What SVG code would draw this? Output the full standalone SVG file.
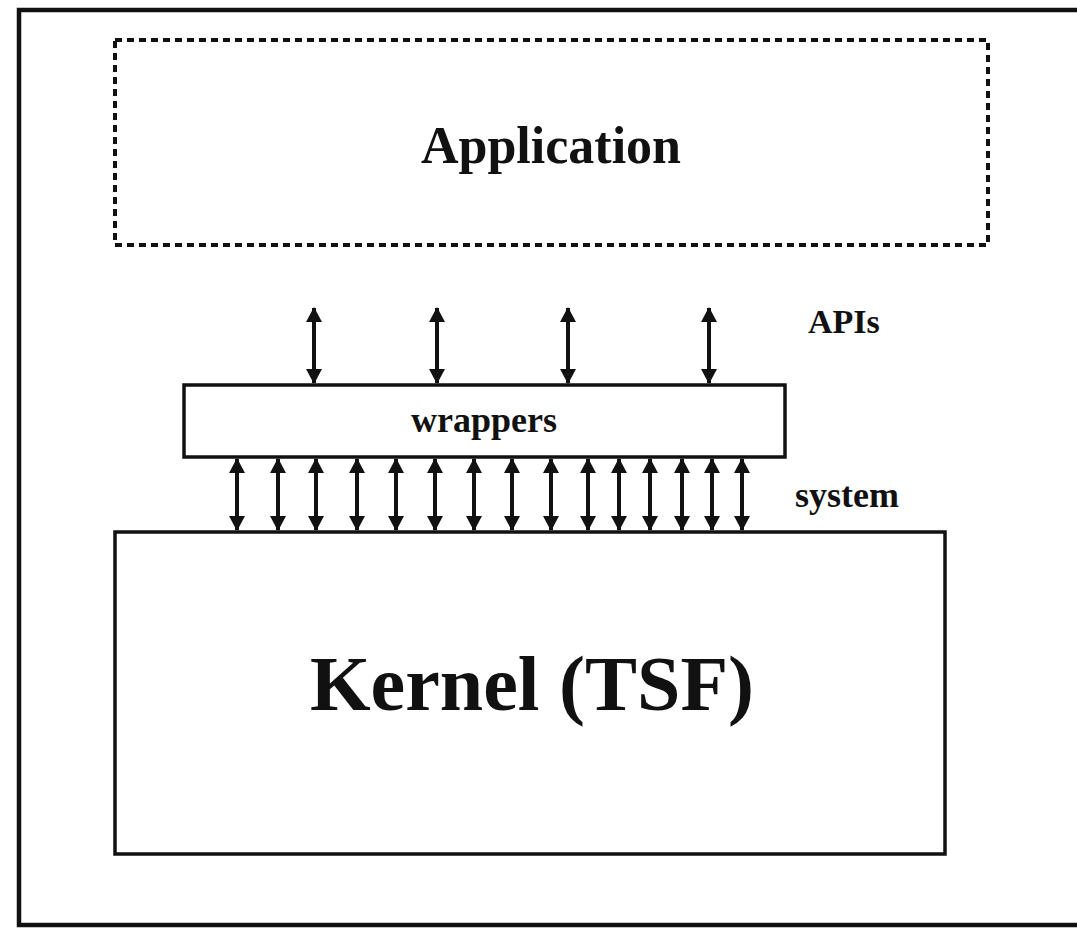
<svg xmlns="http://www.w3.org/2000/svg" width="1077" height="931" viewBox="0 0 1077 931">
<style>
.box{fill:#fff;stroke:#111;stroke-width:3.5}
.dash{fill:none;stroke:#111;stroke-width:4;stroke-dasharray:7 5}
.frame{fill:none;stroke:#111;stroke-width:4.5}
.arr{stroke:#111;stroke-width:4;fill:none;marker-start:url(#ah);marker-end:url(#ah)}
.t{font-family:"Liberation Serif","Times New Roman",serif;fill:#111;font-weight:bold}
</style>
<defs>
<marker id="ah" markerUnits="userSpaceOnUse" viewBox="0 0 15 16" refX="14" refY="8" markerWidth="15" markerHeight="16" orient="auto-start-reverse">
<path d="M0,0 L15,8 L0,16 Z" fill="#111"/>
</marker>
</defs>
<rect width="1077" height="931" fill="#fff"/>
<g id="frame"><rect class="frame" x="19" y="10" width="1080" height="915"/></g>
<g id="application">
<rect class="dash" x="115" y="40" width="873" height="205"/>
<text class="t" x="551" y="163" font-size="52" text-anchor="middle">Application</text>
</g>
<g id="wrappers">
<rect class="box" x="184" y="385" width="601" height="72"/>
<text class="t" x="484" y="432" font-size="36" text-anchor="middle">wrappers</text>
</g>
<g id="kernel">
<rect class="box" x="115" y="532" width="830" height="322"/>
<text class="t" x="532" y="710" font-size="78" text-anchor="middle">Kernel (TSF)</text>
</g>
<g id="labels">
<text class="t" x="808" y="333" font-size="34">APIs</text>
<text class="t" x="795" y="507" font-size="36">system</text>
</g>
<g id="connectors">
<line class="arr" x1="314" y1="308" x2="314" y2="383"/>
<line class="arr" x1="437" y1="308" x2="437" y2="383"/>
<line class="arr" x1="568" y1="308" x2="568" y2="383"/>
<line class="arr" x1="709" y1="308" x2="709" y2="383"/>
<line class="arr" x1="237" y1="459" x2="237" y2="530"/>
<line class="arr" x1="278" y1="459" x2="278" y2="530"/>
<line class="arr" x1="316" y1="459" x2="316" y2="530"/>
<line class="arr" x1="357" y1="459" x2="357" y2="530"/>
<line class="arr" x1="396" y1="459" x2="396" y2="530"/>
<line class="arr" x1="435" y1="459" x2="435" y2="530"/>
<line class="arr" x1="474" y1="459" x2="474" y2="530"/>
<line class="arr" x1="512" y1="459" x2="512" y2="530"/>
<line class="arr" x1="551" y1="459" x2="551" y2="530"/>
<line class="arr" x1="588" y1="459" x2="588" y2="530"/>
<line class="arr" x1="619" y1="459" x2="619" y2="530"/>
<line class="arr" x1="650" y1="459" x2="650" y2="530"/>
<line class="arr" x1="682" y1="459" x2="682" y2="530"/>
<line class="arr" x1="712" y1="459" x2="712" y2="530"/>
<line class="arr" x1="742" y1="459" x2="742" y2="530"/>
</g>
</svg>
